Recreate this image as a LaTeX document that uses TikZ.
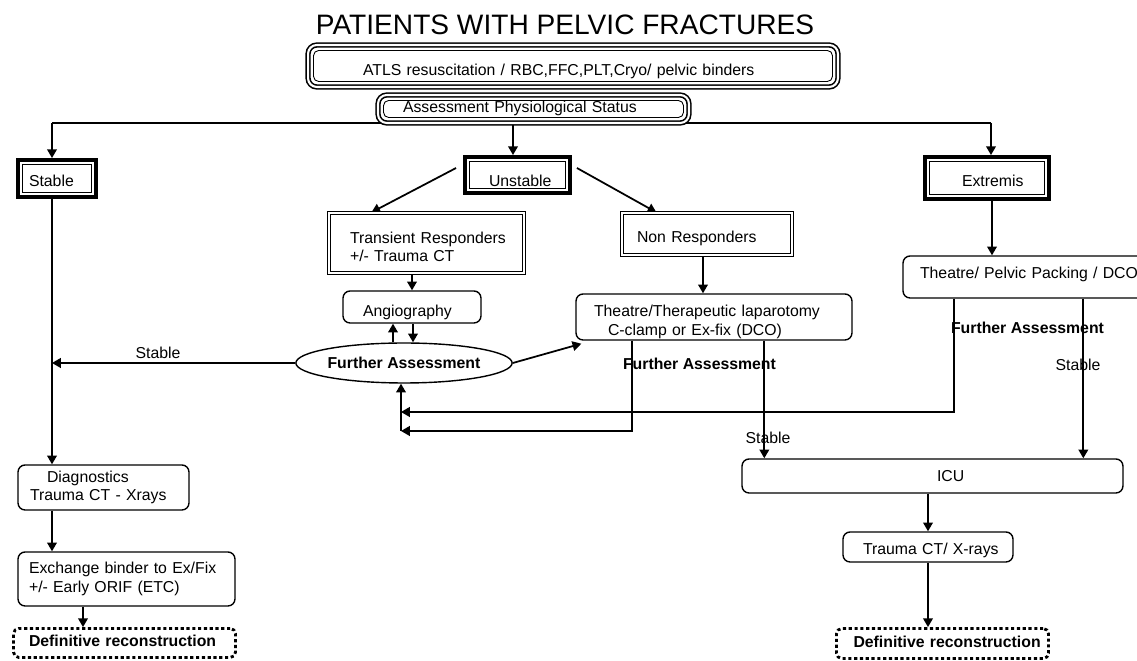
\documentclass[tikz,border=0pt]{standalone}
\usepackage{fontspec}
\setmainfont{Liberation Sans}
\usetikzlibrary{arrows.meta,shapes.geometric,backgrounds}
\begin{document}
\begin{tikzpicture}[x=0.02cm,y=-0.02cm,
  every node/.style={font=\fontsize{9}{10.5}\selectfont},
  bft/.style={font=\fontsize{9}{10.5}\selectfont\bfseries},
  th/.style={text height=#1, text depth=0pt},
  tbox/.style={align=left, inner xsep=0pt, inner ysep=0pt},
  tribox/.style={tbox, draw, fill=white, rounded corners=5pt, line width=0.9pt, double, double distance=1.2pt,
     path picture={\draw[line width=0.5pt, rounded corners=3pt] ([shift={(3.1pt,3.1pt)}]path picture bounding box.south west) rectangle ([shift={(-3.1pt,-3.1pt)}]path picture bounding box.north east);}},
  thickbox/.style={tbox, draw, fill=white, line width=2.2pt,
     path picture={\draw[line width=0.6pt, sharp corners] ([shift={(2.6pt,2.6pt)}]path picture bounding box.south west) rectangle ([shift={(-2.6pt,-2.6pt)}]path picture bounding box.north east);}},
  dblbox/.style={tbox, draw, fill=white, line width=0.7pt, double, double distance=1pt},
  rbox/.style={tbox, draw, fill=white, line width=0.8pt, rounded corners=4pt},
  dashbox/.style={tbox, bft, draw, fill=white, line width=1.6pt, dash pattern=on 1.8pt off 1.5pt, rounded corners=3pt},
  ebox/.style={draw, ellipse, fill=white, line width=0.8pt, inner sep=0pt, bft},
  arr/.style={-{Triangle[length=5pt,width=5.5pt]}, line width=1pt},
  ln/.style={line width=1pt}
]
\useasboundingbox (0,0) rectangle (1137,661);

% title
\node[font=\fontsize{16}{19}\selectfont] (title) at (565,25) {PATIENTS WITH PELVIC FRACTURES};

% top boxes
\node[tribox, th=11pt, text width=10.6cm, minimum height=0.84cm] (atls) at (573,66) {\hspace*{1.1cm}ATLS resuscitation / RBC,FFC,PLT,Cryo/ pelvic binders};
\node[tribox, th=4.2pt, text width=6.22cm, minimum height=0.56cm] (assess) at (533.5,109) {\hspace*{0.5cm}Assessment Physiological Status};

% status boxes
\node[thickbox, th=9.3pt, text width=1.56cm, minimum height=0.74cm] (stable) at (57,178.5) {\hspace*{0.22cm}Stable};
\node[thickbox, th=13.3pt, text width=2.1cm, minimum height=0.72cm] (unstable) at (517.5,175) {\hspace*{0.48cm}Unstable};
\node[thickbox, th=9.9pt, text width=2.48cm, minimum height=0.84cm] (extremis) at (987,178) {\hspace*{0.74cm}Extremis};

% responders
\node[dblbox, text height=10.6pt, text width=3.9cm, minimum height=1.2cm] (trans) at (426.5,243) {\hspace*{0.42cm}Transient Responders\\\hspace*{0.42cm}+/- Trauma CT};
\node[dblbox, th=9.9pt, text width=3.4cm, minimum height=0.84cm] (nonresp) at (707,234) {\hspace*{0.3cm}Non Responders};

% rounded boxes
\node[rbox, th=11pt, text width=2.76cm, minimum height=0.64cm] (angio) at (412,307) {\hspace*{0.4cm}Angiography};
\node[rbox, text height=12.3pt, text width=5.52cm, minimum height=0.92cm] (th1) at (714,317) {\hspace*{0.36cm}Theatre/Therapeutic laparotomy\\\hspace*{0.64cm}C-clamp or Ex-fix (DCO)};
\node[rbox, th=1.9pt, text width=4.86cm, minimum height=0.84cm] (th2) at (1024.5,277) {\hspace*{0.34cm}Theatre/ Pelvic Packing / DCO};
\node[rbox, th=6.5pt, text width=7.62cm, minimum height=0.68cm] (icu) at (932.5,476) {\hspace*{3.9cm}ICU};
\node[rbox, th=8.7pt, text width=3.4cm, minimum height=0.6cm] (trauma) at (928,547) {\hspace*{0.4cm}Trauma CT/ X-rays};
\node[rbox, text width=3.42cm, minimum height=0.9cm] (diag) at (103.5,487.5) {\hspace*{0.58cm}Diagnostics\\\hspace*{0.24cm}Trauma CT - Xrays};
\node[rbox, text width=4.34cm, minimum height=1.08cm] (exch) at (126.5,579) {\hspace*{0.22cm}Exchange binder to Ex/Fix\\\hspace*{0.22cm}+/- Early ORIF (ETC)};

% definitive
\node[dashbox, th=4.8pt, text width=4.24cm, minimum height=0.6cm] (defR) at (942.5,643.5) {\hspace*{0.34cm}Definitive reconstruction};
\node[dashbox, th=4.2pt, text width=4.44cm, minimum height=0.58cm] (defL) at (124.5,643) {\hspace*{0.31cm}Definitive reconstruction};

% ellipse
\node[ebox, minimum width=4.04cm, minimum height=0.8cm] (ell) at (404,363) {Further Assessment};

% labels
\node (l1) at (158,353) {Stable};
\node[bft] (fa1) at (699.5,364) {Further Assessment};
\node (l2) at (768,438) {Stable};
\node[bft] (fa2) at (1027.5,328) {Further Assessment};
\node (l3) at (1078,365) {Stable};

\begin{pgfonlayer}{background}
\fill[white] (0,0) rectangle (1137,661);
\coordinate (hl) at (52,123);
\coordinate (hr) at (991,123);
\draw[ln] (hl) -- (hr);
\draw[arr] (hl) -- (hl |- stable.north);
\draw[arr] (hr) -- (hr |- extremis.north);
\coordinate (am) at ([shift={(-20.5,0)}]assess.south);
\draw[arr] (am) -- (am |- unstable.north);

\draw[arr] ([shift={(-7,-7)}]unstable.west) -- ([shift={(43,0)}]trans.north west);
\draw[arr] ([shift={(5,-7)}]unstable.east) -- ([shift={(35,0)}]nonresp.north west);

\draw[arr] (angio.north |- trans.south) -- (angio.north);
\coordinate (nr) at ([shift={(-4,0)}]nonresp.south);
\draw[arr] (nr) -- (nr |- th1.north);
\coordinate (ex) at ([shift={(5,0)}]extremis.south);
\draw[arr] (ex) -- (ex |- th2.north);

\coordinate (a1) at ([shift={(-11,0)}]ell.north);
\draw[arr] (a1) -- (a1 |- angio.south);
\coordinate (a2) at ([shift={(9,0)}]ell.north);
\draw[arr] (a2 |- angio.south) -- (a2);

\coordinate (sx) at ([shift={(-5,0)}]stable.south);
\draw[arr] (sx) -- (sx |- diag.north);
\draw[arr] (ell.west) -- (ell.west -| sx);
\draw[arr] (ell.east) -- ([shift={(6,3)}]th1.south west);

\coordinate (lp) at (401,431);
\coordinate (lq) at (401,412);
\draw[arr] (lp) -- (lp |- ell.south);
\coordinate (t1l) at ([shift={(57,0)}]th1.south west);
\draw[arr] (t1l) |- (lp);
\coordinate (t2l) at ([shift={(52,0)}]th2.south west);
\draw[arr] (t2l) |- (lq);
\coordinate (t1r) at ([shift={(189,0)}]th1.south west);
\draw[arr] (t1r) -- (t1r |- icu.north);
\coordinate (t2r) at ([shift={(181,0)}]th2.south west);
\draw[arr] (t2r) -- (t2r |- icu.north);

\draw[arr] (icu.south -| trauma.north) -- (trauma.north);
\draw[arr] (trauma.south) -- (trauma.south |- defR.north);
\draw[arr] (sx |- diag.south) -- (sx |- exch.north);
\coordinate (xe) at ([shift={(-43.5,0)}]exch.south);
\draw[arr] (xe) -- (xe |- defL.north);
\end{pgfonlayer}
\end{tikzpicture}
\end{document}
